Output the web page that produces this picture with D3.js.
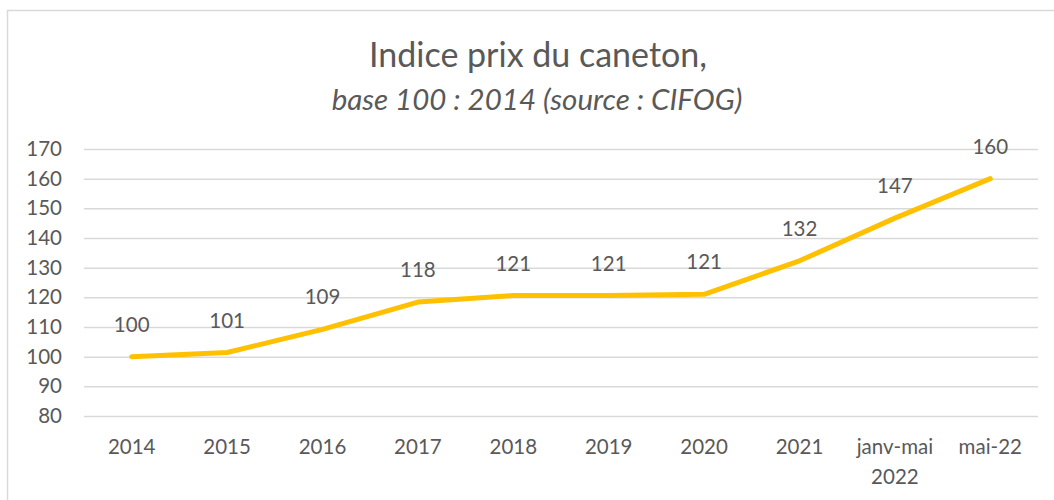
<!DOCTYPE html>
<html>
<head>
<meta charset="utf-8">
<script src="https://cdn.jsdelivr.net/npm/d3@7"></script>
<style>
  body { margin: 0; background: #fff; }
  text { font-family: Lato, "Open Sans", sans-serif; fill: #595959; }
</style>
</head>
<body>
<div id="chart"></div>
<script>
let categories = ["2014", "2015", "2016", "2017", "2018", "2019", "2020", "2021", "janv-mai 2022", "mai-22"];
let values = [100, 101.4, 109.2, 118.4, 120.6, 120.6, 121, 132.3, 146.7, 160];
let y_ticks = [80, 90, 100, 110, 120, 130, 140, 150, 160, 170];
let title = "Indice prix du caneton,";
let subtitle = "base 100 : 2014 (source : CIFOG)";

let _default = {
    width: 1054,
    height: 500,
    left: 84,
    right: 1038,
    top: 149,
    bottom: 416,
    line_color: "#FFC000",
    grid_color: "#d9d9d9",
    font_size: 20.5
};

let svg = d3.select("div#chart")
    .append("svg")
    .attr("width", _default.width)
    .attr("height", _default.height);

// chart frame
svg.append("rect")
    .attr("x", 7.5).attr("y", 10.5)
    .attr("width", 1060).attr("height", 500)
    .attr("fill", "none")
    .attr("stroke", _default.grid_color)
    .attr("stroke-width", 1.5);

let x = d3.scaleBand().domain(categories).range([_default.left, _default.right]);
let y = d3.scaleLinear().domain([80, 170]).range([_default.bottom, _default.top]);

// gridlines + y labels
let yAxis = svg.append("g")
    .attr("transform", `translate(${_default.left}, 0)`)
    .call(d3.axisLeft(y).tickValues(y_ticks).tickSize(-(_default.right - _default.left)).tickPadding(22));
yAxis.select(".domain").remove();
yAxis.selectAll(".tick line").attr("stroke", _default.grid_color).attr("stroke-width", 1.5);
yAxis.selectAll(".tick text")
    .attr("font-size", _default.font_size)
    .style("font-family", "Lato, sans-serif")
    .attr("fill", "#595959");

// x labels
let xAxis = svg.append("g")
    .attr("transform", `translate(0, ${_default.bottom})`)
    .call(d3.axisBottom(x).tickSize(0).tickPadding(0));
xAxis.select(".domain").remove();
xAxis.selectAll(".tick text").remove();
xAxis.selectAll(".tick").each(function (d) {
    let parts = d.split(" ");
    let t = d3.select(this).append("text")
        .attr("text-anchor", "middle")
        .attr("font-size", _default.font_size)
        .attr("y", 38);
    parts.forEach((p, i) => {
        t.append("tspan").attr("x", 0).attr("dy", i === 0 ? 0 : 30).text(p);
    });
});

// line
let line = d3.line()
    .x((d, i) => x(categories[i]) + x.bandwidth() / 2)
    .y(d => y(d));
svg.append("path")
    .datum(values)
    .attr("d", line)
    .attr("fill", "none")
    .attr("stroke", _default.line_color)
    .attr("stroke-width", 5)
    .attr("stroke-linejoin", "round")
    .attr("stroke-linecap", "round");

// data labels
svg.selectAll("text.label").data(values).enter().append("text")
    .attr("class", "label")
    .attr("text-anchor", "middle")
    .attr("font-size", _default.font_size)
    .attr("x", (d, i) => x(categories[i]) + x.bandwidth() / 2)
    .attr("y", d => y(d) - 25)
    .text(d => Math.round(d));

// titles
svg.append("text")
    .attr("x", 538).attr("y", 67)
    .attr("text-anchor", "middle")
    .attr("font-size", 34)
    .text(title);
svg.append("text")
    .attr("x", 537).attr("y", 110)
    .attr("text-anchor", "middle")
    .attr("font-size", 29.5)
    .attr("font-style", "italic")
    .text(subtitle);
</script>
</body>
</html>
